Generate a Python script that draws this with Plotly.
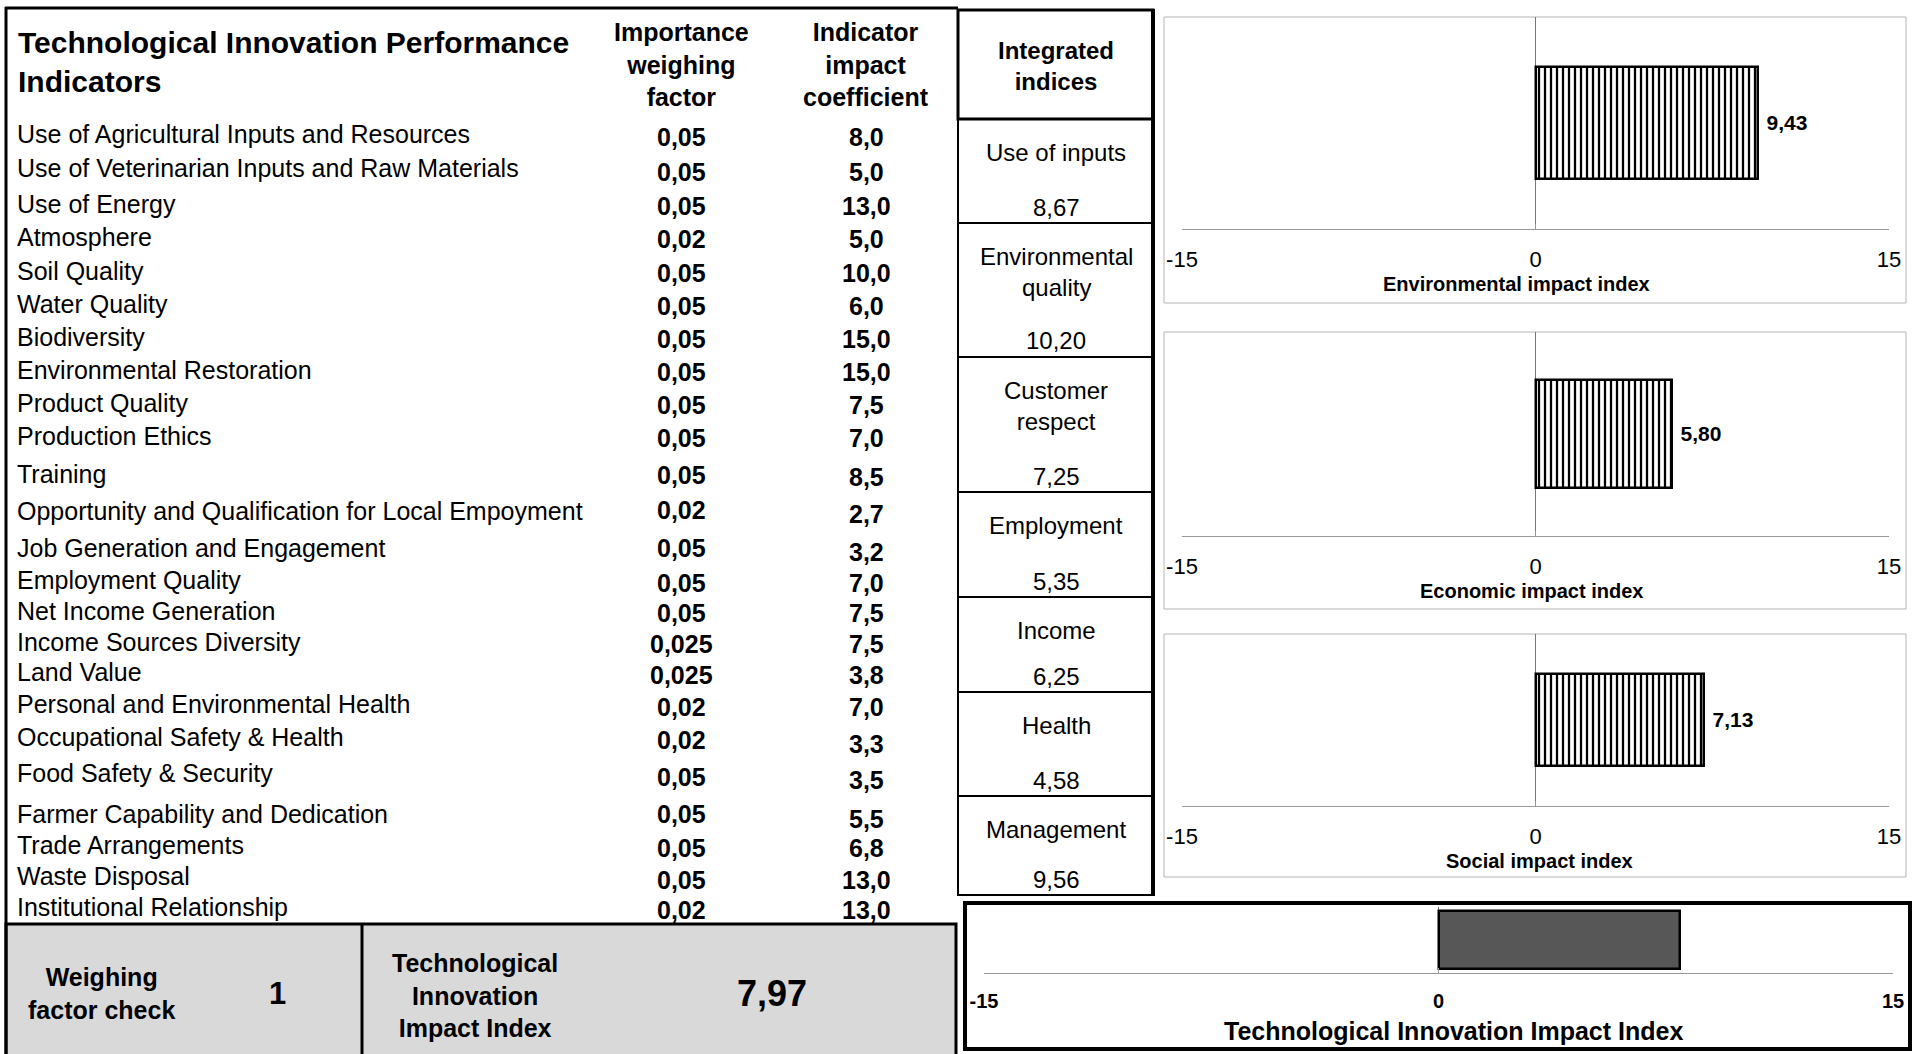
import plotly.graph_objects as go

W, H = 1914, 1054

# ---------------- data ----------------
indicators = [
    "Use of Agricultural Inputs and Resources",
    "Use of Veterinarian Inputs and Raw Materials",
    "Use of Energy",
    "Atmosphere",
    "Soil Quality",
    "Water Quality",
    "Biodiversity",
    "Environmental Restoration",
    "Product Quality",
    "Production Ethics",
    "Training",
    "Opportunity and Qualification for Local Empoyment",
    "Job Generation and Engagement",
    "Employment Quality",
    "Net Income Generation",
    "Income Sources Diversity",
    "Land Value",
    "Personal and Environmental Health",
    "Occupational Safety & Health",
    "Food Safety & Security",
    "Farmer Capability and Dedication",
    "Trade Arrangements",
    "Waste Disposal",
    "Institutional Relationship",
]
weights = [0.05, 0.05, 0.05, 0.02, 0.05, 0.05, 0.05, 0.05, 0.05, 0.05, 0.05, 0.02,
           0.05, 0.05, 0.05, 0.025, 0.025, 0.02, 0.02, 0.05, 0.05, 0.05, 0.05, 0.02]
coefficients = [8.0, 5.0, 13.0, 5.0, 10.0, 6.0, 15.0, 15.0, 7.5, 7.0, 8.5, 2.7,
                3.2, 7.0, 7.5, 7.5, 3.8, 7.0, 3.3, 3.5, 5.5, 6.8, 13.0, 13.0]

integrated_names = ["Use of inputs", "Environmental<br>quality", "Customer<br>respect",
                    "Employment", "Income", "Health", "Management"]
integrated_values = [8.67, 10.20, 7.25, 5.35, 6.25, 4.58, 9.56]

impact_names = ["Environmental impact index", "Economic impact index", "Social impact index"]
impact_values = [9.43, 5.80, 7.13]
tii_name = "Technological Innovation Impact Index"
tii_value = 7.97
weight_check = 1

tick_vals = [-15, 0, 15]
tick_text = ["-15", "0", "15"]

# ---------------- layout helpers (pixel -> paper) ----------------
def X(px):
    return px / W

def Y(py):
    return 1 - py / H

FONT = "Liberation Sans, Arial, Helvetica, sans-serif"

def fmt(v, nd=None):
    s = (f"{v:.{nd}f}" if nd is not None else format(v, "g"))
    return s.replace(".", ",")

label_y = [134, 168, 204, 237, 271, 304, 337, 370, 403, 436, 474, 511,
           548, 580, 611, 642, 672, 704, 737, 773, 814, 845, 876, 907]
value_y = [137, 172, 206, 239, 273, 306, 339, 372, 405, 438, 475, 510,
           548, 583, 613, 644, 675, 707, 740, 777, 814, 848, 880, 910]
coef_dy = [0, 0, 0, 0, 0, 0, 0, 0, 0, 0, 2, 4, 4, 0, 0, 0, 0, 0, 4, 3, 5, 0, 0, 0]

annotations = []
shapes = []

def ann(text, px, py, size=25, bold=False, xanchor="center", yanchor="middle", color="black"):
    annotations.append(dict(
        text=f"<b>{text}</b>" if bold else text,
        x=X(px), y=Y(py), xref="paper", yref="paper",
        xanchor=xanchor, yanchor=yanchor, showarrow=False,
        font=dict(family=FONT, size=size, color=color), align="center"))

def line(x0, y0, x1, y1, w=2, color="black"):
    shapes.append(dict(type="line", xref="paper", yref="paper",
                       x0=X(x0), y0=Y(y0), x1=X(x1), y1=Y(y1),
                       line=dict(color=color, width=w)))

def rect(x0, y0, x1, y1, w=1, color="black", fill="rgba(0,0,0,0)", layer="above"):
    shapes.append(dict(type="rect", xref="paper", yref="paper",
                       x0=X(x0), y0=Y(y0), x1=X(x1), y1=Y(y1),
                       line=dict(color=color, width=w), fillcolor=fill, layer=layer))

# ---------------- left table ----------------
ann("Technological Innovation Performance<br>Indicators", 16, 62, size=30, bold=True, xanchor="left")
annotations[-1]["align"] = "left"
ann("Importance<br>weighing<br>factor", 681, 65, size=25, bold=True)
ann("Indicator<br>impact<br>coefficient", 866, 65, size=25, bold=True)

for i, name in enumerate(indicators):
    ann(name, 15, label_y[i], size=25, xanchor="left")
    ann(fmt(weights[i]), 681, value_y[i], size=25, bold=True)
    ann(fmt(coefficients[i], 1), 866, value_y[i] + coef_dy[i], size=25, bold=True)

line(5, 8, 958, 8, w=3)
line(6, 7, 6, 1060, w=3)

# bottom grey box
rect(6, 924, 956, 1060, w=3, fill="#d9d9d9", layer="below")
line(362, 924, 362, 1060, w=3)
ann("Weighing<br>factor check", 101, 993, size=25, bold=True)
ann(fmt(weight_check), 277, 993, size=31, bold=True)
ann("Technological<br>Innovation<br>Impact Index", 475, 995, size=25, bold=True)
ann(fmt(tii_value, 2), 772, 993, size=36, bold=True)

# ---------------- integrated indices column ----------------
cell_edges = [119, 223, 357, 492, 597, 692, 796, 895]
CX = 1056
rect(958, 10, 1153, 119, w=3)
ann("Integrated<br>indices", CX, 66, size=24, bold=True)
for i, nm in enumerate(integrated_names):
    top, bot = cell_edges[i], cell_edges[i + 1]
    rect(958, top, 1153, bot, w=2)
    annotations.append(dict(text=nm, x=X(CX), y=Y(top + 18), xref="paper", yref="paper",
                            xanchor="center", yanchor="top", showarrow=False, align="center",
                            font=dict(family=FONT, size=24, color="black")))
    ann(fmt(integrated_values[i], 2), CX, bot - 16, size=24)
line(1153, 9, 1153, 896, w=4)

# ---------------- impact charts ----------------
panel_boxes = [(1164, 17, 1906, 303), (1164, 332, 1906, 609), (1164, 634, 1906, 877)]
plot_y = [(17, 229), (332, 536), (634, 806)]
title_pos = [(1516, 284), (1531, 591), (1539, 861)]
XD = (1182, 1889)

fig = go.Figure()
for k in range(3):
    rect(*panel_boxes[k], w=1, color="#b5b5b5", layer="below")
    xa = "x" if k == 0 else f"x{k+1}"
    ya = "y" if k == 0 else f"y{k+1}"
    fig.add_trace(go.Bar(
        x=[impact_values[k]], y=[impact_names[k]], orientation="h",
        xaxis=xa, yaxis=ya, width=0.53,
        marker=dict(color="white", line=dict(color="black", width=2.5),
                    pattern=dict(shape="|", size=6, solidity=0.38, fgcolor="black",
                                 bgcolor="white", fillmode="replace")),
        texttemplate="\u00a0<b>%{x:.2f}</b>", textposition="outside", cliponaxis=False,
        constraintext="none",
        textfont=dict(family=FONT, size=21, color="black"),
        showlegend=False, hoverinfo="skip"))
    ax = dict(domain=[X(XD[0]), X(XD[1])], range=[-15, 15], anchor=ya,
              tickvals=tick_vals, ticktext=tick_text, ticks="inside", ticklen=5,
              tickcolor="#999", showline=True, linecolor="#999", linewidth=1,
              showgrid=False, zeroline=True, zerolinecolor="#777", zerolinewidth=1,
              tickfont=dict(family=FONT, size=22, color="black"),
              ticklabelstandoff=11, fixedrange=True, automargin=False)
    ay = dict(domain=[Y(plot_y[k][1]), Y(plot_y[k][0])], anchor=xa, type="category",
              range=[-0.5, 0.5], visible=False, fixedrange=True)
    fig.update_layout(**{("xaxis" if k == 0 else f"xaxis{k+1}"): ax,
                         ("yaxis" if k == 0 else f"yaxis{k+1}"): ay})
    ann(impact_names[k], title_pos[k][0], title_pos[k][1], size=20, bold=True)

# ---------------- overall index chart ----------------
rect(965, 903, 1910, 1049, w=4, layer="above")
fig.add_trace(go.Bar(
    x=[tii_value], y=[tii_name], orientation="h", xaxis="x4", yaxis="y4", width=0.88,
    marker=dict(color="#575757", line=dict(color="black", width=2.5)),
    showlegend=False, hoverinfo="skip"))
fig.update_layout(
    xaxis4=dict(domain=[X(984), X(1893)], range=[-15, 15], anchor="y4",
                tickvals=tick_vals, ticktext=tick_text, ticks="inside", ticklen=5,
                tickcolor="#999", showline=True, linecolor="#999", linewidth=1,
                showgrid=False, zeroline=True, zerolinecolor="#777", zerolinewidth=1,
                tickfont=dict(family=FONT, size=20, color="black", weight="bold"),
                ticklabelstandoff=10, fixedrange=True, automargin=False),
    yaxis4=dict(domain=[Y(973), Y(907)], anchor="x4", type="category",
                range=[-0.5, 0.5], visible=False, fixedrange=True),
)
ann(tii_name, 1453, 1031, size=25, bold=True)

fig.update_layout(
    width=W, height=H, margin=dict(l=0, r=0, t=0, b=0, pad=0),
    paper_bgcolor="white", plot_bgcolor="white",
    separators=",.", bargap=0,
    font=dict(family=FONT, color="black"),
    annotations=annotations, shapes=shapes,
)

fig.write_html("out.html", config={"displayModeBar": False})
